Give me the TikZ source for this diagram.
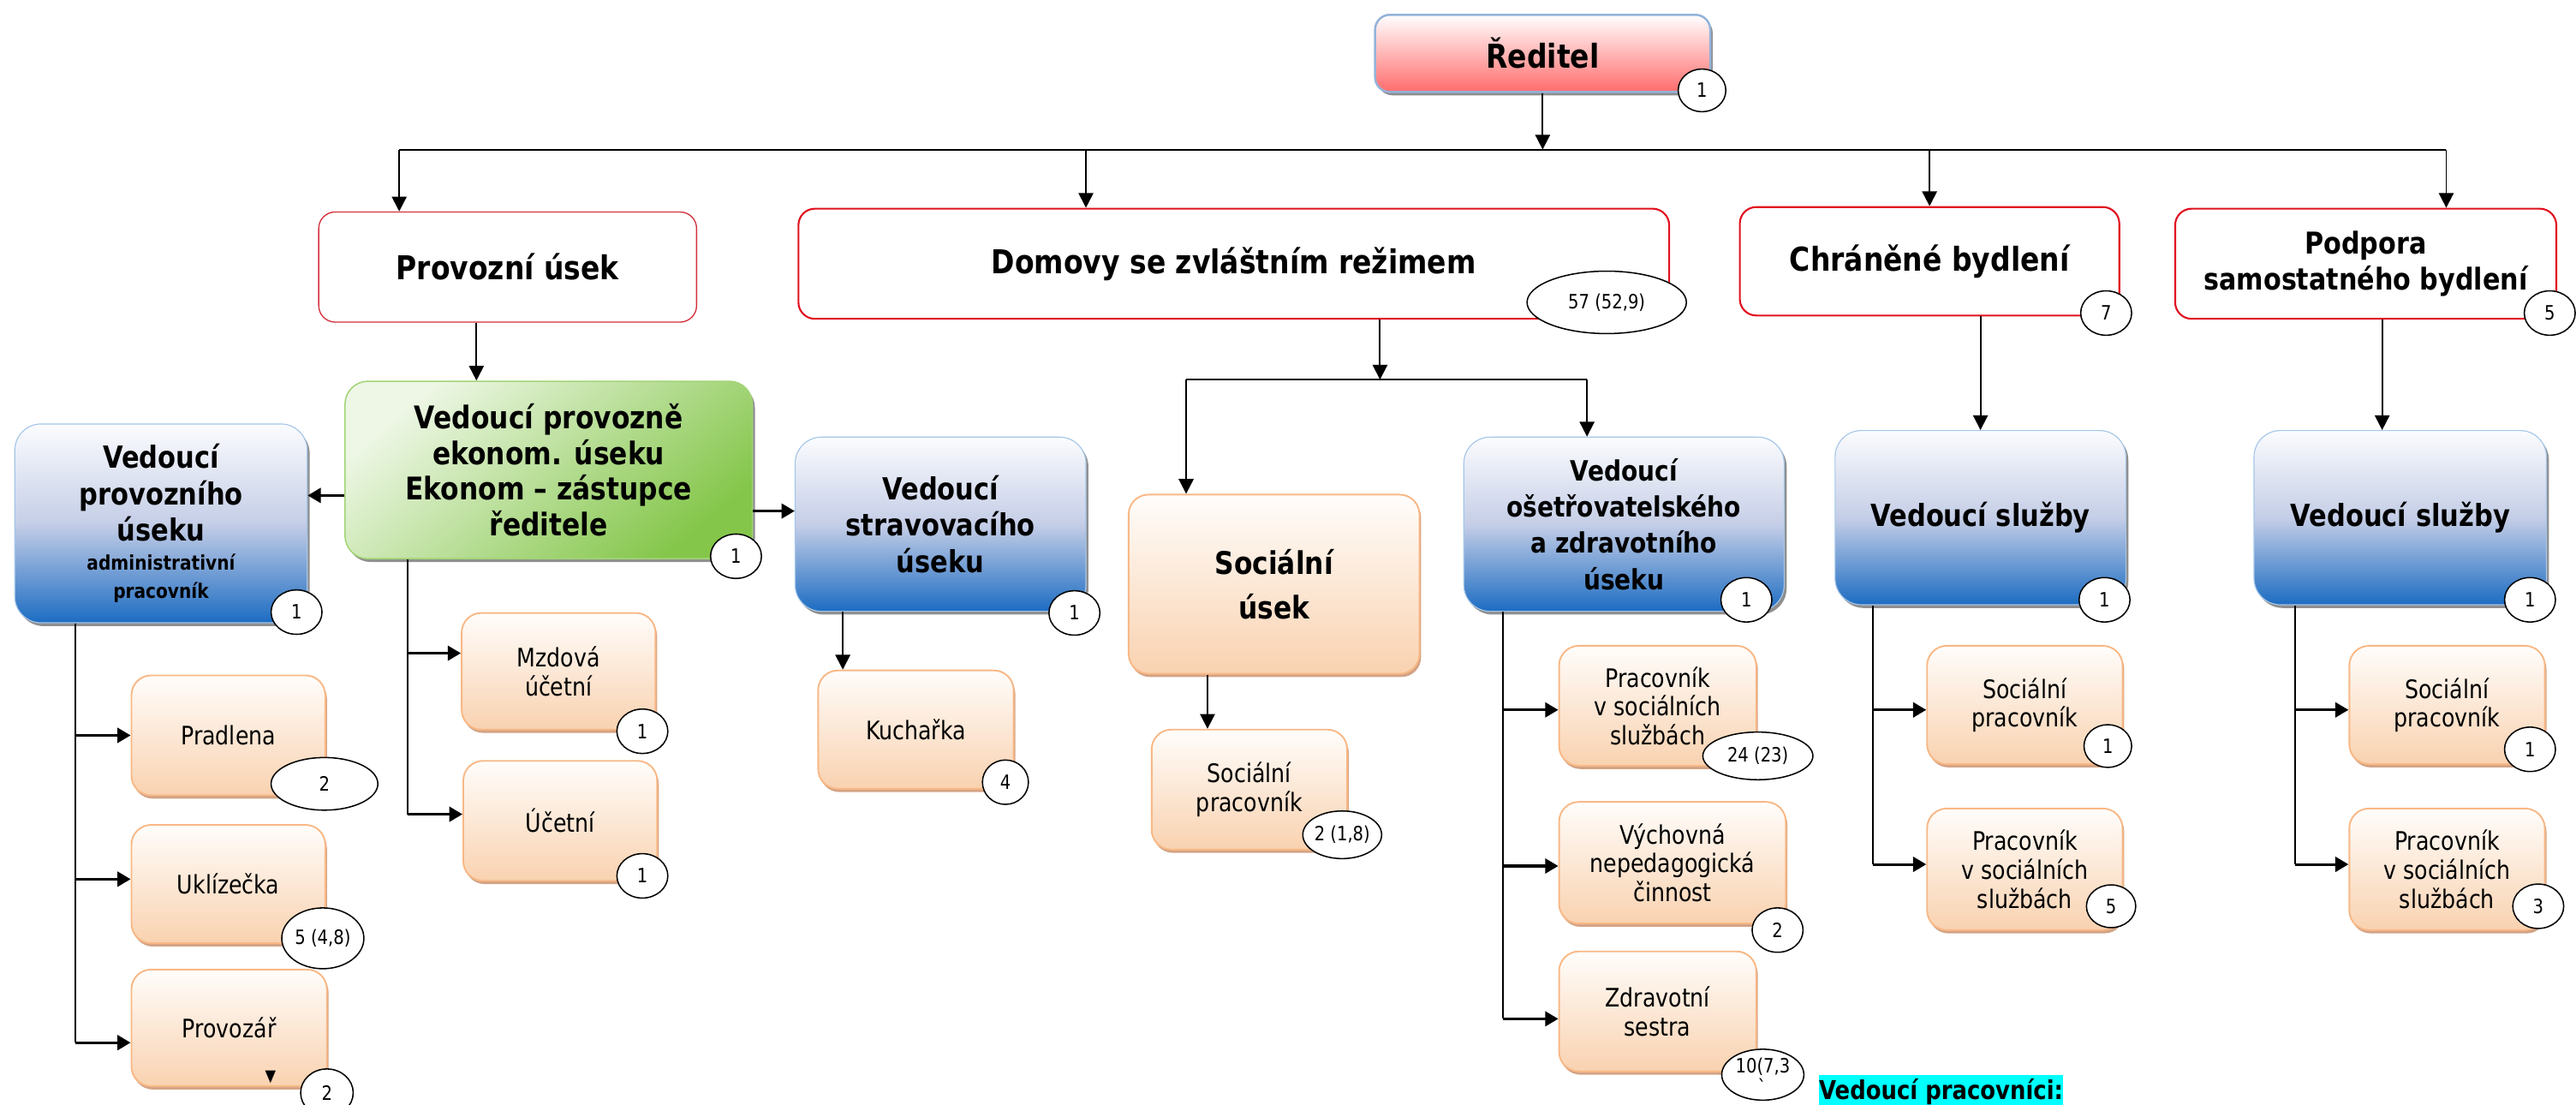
\documentclass[tikz,border=0pt]{standalone}
\usepackage{fontspec}
\setmainfont{DejaVu Sans}[FakeStretch=0.85,BoldFeatures={FakeStretch=0.86}]
\usetikzlibrary{shapes.geometric, shadows, arrows.meta}

\definecolor{unitred}{HTML}{E1101F}
\definecolor{provred}{HTML}{D3303C}
\definecolor{orline}{HTML}{F8B886}
\definecolor{ortop}{HTML}{FFFDFB}
\definecolor{orbot}{HTML}{F9D2B0}
\definecolor{orshade}{HTML}{D3A385}
\definecolor{bltop}{HTML}{FBFCFE}
\definecolor{blmid}{HTML}{C5CEE7}
\definecolor{blbot}{HTML}{1C6CC2}
\definecolor{blline}{HTML}{A5C6E8}
\definecolor{grshade}{HTML}{8F8F8F}
\definecolor{grtop}{HTML}{EEF7E6}
\definecolor{grbot}{HTML}{84C64A}
\definecolor{grline}{HTML}{A2D476}
\definecolor{ceobot}{HTML}{FF6C6C}
\definecolor{ceoline}{HTML}{94B3D9}
\definecolor{markcyan}{HTML}{00FFFF}

\tikzset{
  wh/.style 2 args={minimum width=#1, minimum height=#2},
  unitbox/.style={rectangle, rounded corners=10pt, draw=unitred, line width=1.1pt, fill=white,
    align=center, font=\bfseries\fontsize{20}{23}\selectfont},
  ceobox/.style={rectangle, rounded corners=9pt, draw=ceoline, line width=1.3pt,
    top color=white, bottom color=ceobot, align=center,
    drop shadow={shadow xshift=1.5pt, shadow yshift=-2pt, fill=grshade, opacity=1},
    font=\bfseries\fontsize{20}{24}\selectfont},
  headbox/.style={rectangle, rounded corners=16pt, draw=blline, line width=0.6pt,
    top color=bltop, bottom color=blbot, middle color=blmid, align=center,
    drop shadow={shadow xshift=1.5pt, shadow yshift=-2pt, fill=grshade, opacity=1},
    font=\bfseries\fontsize{18.5}{22}\selectfont},
  ekonbox/.style={rectangle, rounded corners=14pt, draw=grline, line width=0.8pt,
    top color=grtop, bottom color=grbot, shading angle=40, align=center,
    drop shadow={shadow xshift=1.5pt, shadow yshift=-2pt, fill=grshade, opacity=1},
    font=\bfseries\fontsize{19}{21.7}\selectfont},
  staffbox/.style={rectangle, rounded corners=12pt, draw=orline, line width=1pt,
    top color=ortop, bottom color=orbot, align=center,
    drop shadow={shadow xshift=1pt, shadow yshift=-2pt, fill=orshade, opacity=1},
    font=\fontsize{15.5}{17.5}\selectfont},
  bub/.style={ellipse, draw=black, line width=0.8pt, fill=white, inner sep=0pt,
    minimum width=31pt, minimum height=27pt, font=\fontsize{12}{13}\selectfont},
  link/.style={line width=1pt},
  down/.style={link, -{Triangle[length=9pt, width=9pt]}},
  side/.style={line width=1.6pt, -{Triangle[length=8pt, width=9pt]}},
}

\begin{document}
\begin{tikzpicture}[x=1pt, y=-1pt]
\useasboundingbox (0,0) rectangle (1568,672);

% director
\node[ceobox, wh={204}{47}] (reditel) at (939,32.5) {Ředitel};

% main units
\node[unitbox, wh={230}{67}, draw=provred, line width=0.7pt] (prov) at (309,162.5) {Provozní úsek};
\node[unitbox, wh={530}{67}] (domovy) at (751,160.5) {Domovy se zvláštním režimem};
\node[unitbox, wh={231}{66}] (chran) at (1174.5,159) {Chráněné bydlení};
\node[unitbox, wh={232}{67}, font=\bfseries\fontsize{18.3}{22}\selectfont] (podp) at (1440,160.5) {Podpora\\samostatného bydlení};

\coordinate (busL) at (243,91);
\coordinate (busDom) at (661,91);
\coordinate (busR) at (1489,91);
\draw[link] (busL) -- (busR);
\draw[down] (reditel.south) -- (reditel.south |- busL);
\draw[down] (busL) -- (busL |- prov.north);
\draw[down] (busDom) -- (busDom |- domovy.north);
\draw[down] (chran.north |- busL) -- (chran.north);
\draw[down] (busR) -- (busR |- podp.north);

% provozni usek
\node[ekonbox, wh={248}{108}] (ekonom) at (334,286) {Vedoucí provozně\\ekonom. úseku\\Ekonom -- zástupce\\ředitele};
\node[headbox, wh={178}{121}] (vprov) at (98,318.5) {Vedoucí\\provozního\\úseku\\[-4pt]{\fontsize{12.2}{14.8}\selectfont administrativní}\\[-5pt]{\fontsize{12.2}{14.8}\selectfont pracovník}};
\node[headbox, wh={177}{106}] (vstrav) at (572.5,319) {Vedoucí\\stravovacího\\úseku};
\draw[down] ([xshift=-19pt]prov.south) -- ([xshift=-19pt]prov.south |- ekonom.north);
\draw[side] ([yshift=-15.5pt]ekonom.west) -- ([yshift=-15.5pt]ekonom.west -| vprov.east);
\draw[side] ([yshift=-25pt]ekonom.east) -- ([yshift=-25pt]ekonom.east -| vstrav.west);

\node[staffbox, wh={118}{73}] (pradl) at (139,447.5) {Pradlena};
\node[staffbox, wh={118}{72}] (uklid) at (139,538) {Uklízečka};
\node[staffbox, wh={119}{71}] (provoz) at (139.5,625.5) {Provozář};
\node[font=\fontsize{10}{10}\selectfont, inner sep=0pt] (mark) at (164.7,655.5) {▼};
\coordinate (spA) at ([xshift=-52pt]vprov.south);
\draw[link] (spA) -- ([yshift=-9pt]spA |- provoz.west);
\draw[side] (spA |- pradl.west) -- (pradl.west);
\draw[side] ([yshift=3pt]spA |- uklid.west) -- ([yshift=3pt]uklid.west);
\draw[side] ([yshift=-9pt]spA |- provoz.west) -- ([yshift=-9pt]provoz.west);

\node[staffbox, wh={118}{71}] (mzdova) at (340,408.5) {Mzdová\\účetní};
\node[staffbox, wh={118}{73}] (ucetni) at (341,499.5) {Účetní};
\coordinate (spB) at ([xshift=-86pt]ekonom.south);
\draw[link] (spB) -- ([yshift=4pt]spB |- ucetni.west);
\draw[side] ([yshift=11pt]spB |- mzdova.west) -- ([yshift=11pt]mzdova.west);
\draw[side] ([yshift=4pt]spB |- ucetni.west) -- ([yshift=4pt]ucetni.west);

\node[staffbox, wh={119}{72}] (kuchar) at (557.5,444) {Kuchařka};
\draw[down] ([xshift=-59.5pt]vstrav.south) -- ([xshift=-59.5pt]vstrav.south |- kuchar.north);

% domovy se zvlastnim rezimem
\coordinate (dsplit) at (840,231);
\coordinate (dL) at (722,231);
\coordinate (dR) at (966,231);
\node[staffbox, wh={177}{109}, font=\bfseries\fontsize{19}{27}\selectfont] (socusek) at (775.5,355.5) {Sociální\\úsek};
\node[headbox, wh={195}{106}, font=\bfseries\fontsize{17}{22}\selectfont] (vosetr) at (988.5,319) {Vedoucí\\ošetřovatelského\\a zdravotního\\úseku};
\draw[down] (dsplit |- domovy.south) -- (dsplit);
\draw[link] (dL) -- (dR);
\draw[down] (dL) -- (dL |- socusek.north);
\draw[down] (dR) -- (dR |- vosetr.north);

\node[staffbox, wh={119}{73}] (socprac) at (760.5,480.5) {Sociální\\pracovník};
\draw[down] ([xshift=-40.5pt]socusek.south) -- ([xshift=-40.5pt]socusek.south |- socprac.north);

\node[staffbox, wh={120}{73}] (pss) at (1009,429.5) {Pracovník\\v sociálních\\službách};
\node[staffbox, wh={138}{74}] (vychov) at (1018,525) {Výchovná\\nepedagogická\\činnost};
\node[staffbox, wh={120}{73}] (sestra) at (1009,615.5) {Zdravotní\\sestra};
\coordinate (spC) at ([xshift=-73.5pt]vosetr.south);
\draw[link] (spC) -- ([yshift=-4.5pt]spC |- sestra.west);
\draw[side] ([yshift=-2.5pt]spC |- pss.west) -- ([yshift=-2.5pt]pss.west);
\draw[side] ([yshift=-2pt]spC |- vychov.west) -- ([yshift=-2pt]vychov.west);
\draw[side] ([yshift=-4.5pt]spC |- sestra.west) -- ([yshift=-4.5pt]sestra.west);

% chranene bydleni
\node[headbox, wh={177}{106}] (vsluzbyA) at (1205.5,315) {Vedoucí služby};
\draw[down] (vsluzbyA.north |- chran.south) -- (vsluzbyA.north);
\node[staffbox, wh={119}{72}] (socpracA) at (1232.5,429) {Sociální\\pracovník};
\node[staffbox, wh={119}{74}] (pssA) at (1232.5,529) {Pracovník\\v sociálních\\službách};
\coordinate (spD) at ([xshift=-65.5pt]vsluzbyA.south);
\draw[link] (spD) -- ([yshift=3pt]spD |- pssA.west);
\draw[side] ([yshift=-3pt]spD |- socpracA.west) -- ([yshift=-3pt]socpracA.west);
\draw[side] ([yshift=3pt]spD |- pssA.west) -- ([yshift=3pt]pssA.west);

% podpora samostatneho bydleni
\node[headbox, wh={178}{106}] (vsluzbyB) at (1461,315) {Vedoucí služby};
\draw[down] ([xshift=-11pt]vsluzbyB.north |- podp.south) -- ([xshift=-11pt]vsluzbyB.north);
\node[staffbox, wh={119}{72}] (socpracB) at (1489.5,429) {Sociální\\pracovník};
\node[staffbox, wh={119}{74}] (pssB) at (1489.5,529) {Pracovník\\v sociálních\\službách};
\coordinate (spE) at ([xshift=-64pt]vsluzbyB.south);
\draw[link] (spE) -- ([yshift=3pt]spE |- pssB.west);
\draw[side] ([yshift=-3pt]spE |- socpracB.west) -- ([yshift=-3pt]socpracB.west);
\draw[side] ([yshift=3pt]spE |- pssB.west) -- ([yshift=3pt]pssB.west);

% headcounts
\node[bub, wh={29}{26}] (n-reditel) at (1036,55) {1};
\node[bub, wh={97}{38}] (n-domovy) at (978,184) {57 (52,9)\\[4pt]};
\node[bub] (n-chran) at (1282,190.5) {7};
\node[bub] (n-podp) at (1552,190.5) {5};
\node[bub] (n-ekonom) at (448,338.5) {1};
\node[bub] (n-vprov) at (180.5,372.5) {1};
\node[bub, wh={65}{32}] (n-pradl) at (197.5,477) {2};
\node[bub, wh={50}{37}] (n-uklid) at (196.5,571) {5 (4,8)};
\node[bub, wh={32}{29}] (n-provoz) at (199,665) {2};
\node[bub] (n-mzdova) at (391,445) {1};
\node[bub] (n-ucetni) at (391,533) {1};
\node[bub] (n-vstrav) at (654,373) {1};
\node[bub, wh={28}{27}] (n-kuchar) at (612,476) {4};
\node[bub, wh={48}{29}] (n-socprac) at (817,508) {2 (1,8)};
\node[bub] (n-vosetr) at (1063,365) {1};
\node[bub, wh={67}{29}] (n-pss) at (1070,460) {24 (23)};
\node[bub] (n-vychov) at (1082,566) {2};
\node[bub, wh={50}{31}] (n-sestra) at (1073,654) {};
\node[align=center, inner sep=0pt, font=\fontsize{12}{13}\selectfont] (t-sestra) at ([yshift=-1pt]n-sestra.center) {10(7,3\\\textasciigrave};
\node[bub] (n-vsluzbyA) at (1281,365) {1};
\node[bub, wh={29}{26}] (n-socpracA) at (1283,454) {1};
\node[bub, wh={30}{26}] (n-pssA) at (1285,551.5) {5};
\node[bub] (n-vsluzbyB) at (1540,365) {1};
\node[bub] (n-socpracB) at (1540,456) {1};
\node[bub] (n-pssB) at (1545,551.5) {3};

\node[anchor=base west, fill=markcyan, inner sep=0pt, text height=15pt, text depth=5pt,
  font=\bfseries\fontsize{15.7}{18}\selectfont] (leaders) at (1107,669) {\underline{Vedoucí pracovníci:}};
\end{tikzpicture}
\end{document}
